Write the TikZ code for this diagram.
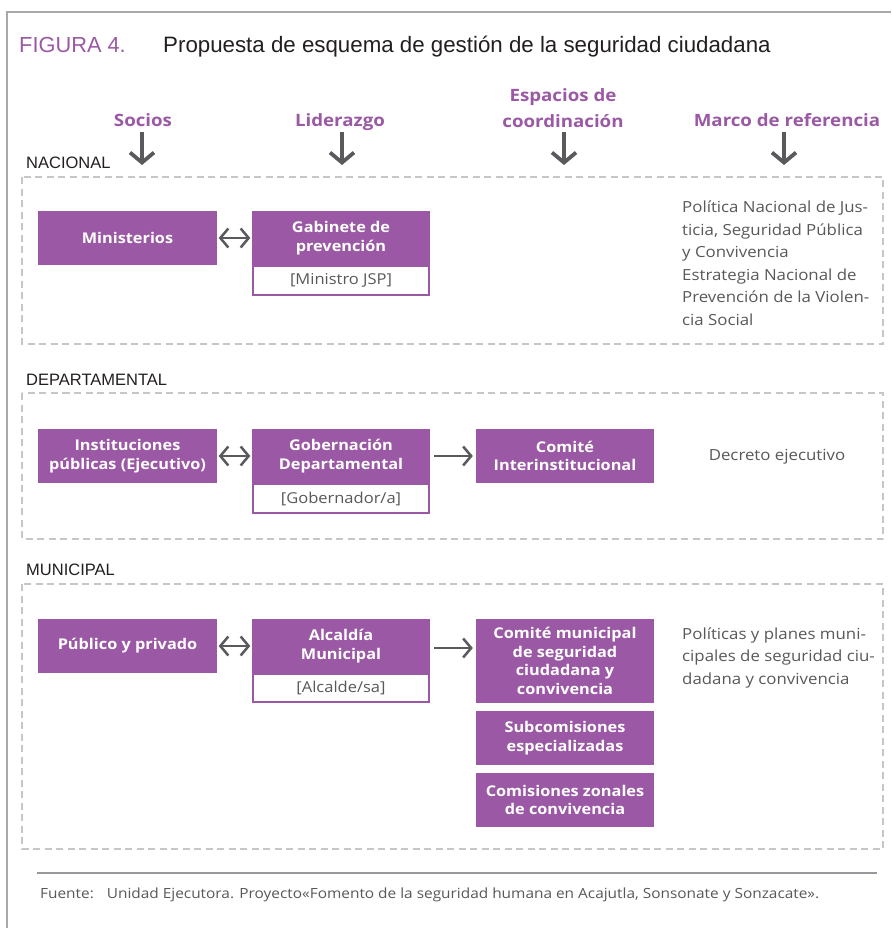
\documentclass[tikz,border=0pt]{standalone}
\usepackage{fontspec}
\setmainfont[FakeStretch=1.1]{Open Sans}
\newfontfamily\helv{Liberation Sans}
\usetikzlibrary{arrows.meta}
\definecolor{pcol}{HTML}{9B59A5}
\definecolor{tgray}{HTML}{58595B}
\definecolor{agray}{HTML}{5A5A5E}
\definecolor{dgray}{HTML}{C6C6C6}
\definecolor{fgray}{HTML}{A7A9AC}
\definecolor{tblack}{HTML}{231F20}
\tikzset{
  pbox/.style={fill=pcol, draw=none, text=white, font=\fontsize{14.8}{18.5}\selectfont\bfseries, align=center, minimum width=178pt, minimum height=54pt, inner sep=0pt},
  wbox/.style={fill=white, draw=pcol, line width=2pt, text=tgray, font=\fontsize{15}{18}\selectfont, minimum width=176pt, minimum height=29pt, inner sep=0pt},
  hdr/.style={text=pcol, font=\fontsize{17}{26}\selectfont\bfseries, align=center, inner sep=0pt, anchor=base},
  lvl/.style={font=\helv\fontsize{16.5}{20}\selectfont, text=tblack, inner sep=0pt, anchor=base west},
  reftext/.style={text=tgray, font=\fontsize{15.3}{22.5}\selectfont, align=left, inner sep=0pt, anchor=base west},
  dashbox/.style={draw=dgray, line width=1.8pt, dash pattern=on 7pt off 4.5pt},
  hdarrow/.style={draw=agray, line width=3.8pt, -{Straight Barb[length=10pt,width=24pt]}},
  dblarrow/.style={draw=agray, line width=2.5pt, {Straight Barb[length=8pt,width=19pt]}-{Straight Barb[length=8pt,width=19pt]}, shorten <=1.5pt, shorten >=1.5pt},
  rarrow/.style={draw=agray, line width=2.5pt, -{Straight Barb[length=8pt,width=19pt]}, shorten <=4pt, shorten >=3pt},
}
\begin{document}
\begin{tikzpicture}[x=1pt,y=-1pt]
\fill[white] (0,0) rectangle (891,928);
\useasboundingbox (0,0) rectangle (891,928);
% frame
\draw[fgray, line width=1.3pt] (7,928) -- (7,12) -- (891,12);
% title
\node[anchor=base west, inner sep=0pt, font=\helv\fontsize{21.8}{26}\selectfont, text=pcol] (fig) at (19,53) {FIGURA 4.};
\node[anchor=base west, inner sep=0pt, font=\helv\fontsize{22.3}{26}\selectfont, text=tblack] (title) at (163,53) {Propuesta de esquema de gestión de la seguridad ciudadana};
% headers
\node[hdr] (h1) at (143,127) {Socios};
\node[hdr] (h2) at (340,127) {Liderazgo};
\node[hdr] (h3) at (563,128) {Espacios de\\coordinación};
\node[hdr] (h4) at (787,127) {Marco de referencia};
\coordinate (a1t) at (142,132); \coordinate (a1b) at (142,165);
\coordinate (a2t) at (342,132); \coordinate (a2b) at (342,165);
\coordinate (a3t) at (564,132); \coordinate (a3b) at (564,165);
\coordinate (a4t) at (784,132); \coordinate (a4b) at (784,165);
\draw[hdarrow] (a1t) -- (a1b);
\draw[hdarrow] (a2t) -- (a2b);
\draw[hdarrow] (a3t) -- (a3b);
\draw[hdarrow] (a4t) -- (a4b);
% level labels
\node[lvl] (lnac) at (26,168) {NACIONAL};
\node[lvl] (ldep) at (26,385) {DEPARTAMENTAL};
\node[lvl] (lmun) at (26,575) {MUNICIPAL};
% dashed regions
\draw[dashbox] (22,177) rectangle (883,344);
\draw[dashbox] (22,393) rectangle (883,539);
\draw[dashbox] (22,584) rectangle (883,849);
% NACIONAL
\node[pbox, minimum width=179pt] (min) at (127.5,238) {Ministerios};
\node[pbox] (gab) at (341,238) {Gabinete de\\prevención};
\node[wbox] (gabw) at (341,280.5) {[Ministro JSP]};
\draw[dblarrow] (min.east) -- (gab.west);
\node[reftext] (rt1) at (682,325) {Política Nacional de Jus-\\ticia, Seguridad Pública\\y Convivencia\\Estrategia Nacional de\\Prevención de la Violen-\\cia Social};
% DEPARTAMENTAL
\node[pbox, minimum width=179pt] (ins) at (127.5,456) {Instituciones\\públicas (Ejecutivo)};
\node[pbox] (gob) at (341,456) {Gobernación\\Departamental};
\node[wbox] (gobw) at (341,498.5) {[Gobernador/a]};
\node[pbox] (cin) at (565,456) {Comité\\Interinstitucional};
\draw[dblarrow] (ins.east) -- (gob.west);
\draw[rarrow] (gob.east) -- (cin.west);
\node[text=tgray, font=\fontsize{15.3}{18}\selectfont, inner sep=0pt] (rt2) at (777,457) {Decreto ejecutivo};
% MUNICIPAL
\node[pbox, minimum width=179pt] (pub) at (127.5,646) {Público y privado};
\node[pbox] (alc) at (341,646) {Alcaldía\\Municipal};
\node[wbox, minimum height=28pt] (alcw) at (341,688) {[Alcalde/sa]};
\node[pbox, minimum height=84pt] (cmu) at (565,661) {Comité municipal\\de seguridad\\ciudadana y\\convivencia};
\node[pbox] (sub) at (565,738) {Subcomisiones\\especializadas};
\node[pbox] (czo) at (565,800) {Comisiones zonales\\de convivencia};
\draw[dblarrow] (pub.east) -- (alc.west);
\draw[rarrow] ([yshift=-2pt]alc.east) -- ([yshift=-2pt]alc.east -| cmu.west);
\node[reftext] (rt3) at (682,684) {Políticas y planes muni-\\cipales de seguridad ciu-\\dadana y convivencia};
% footer
\coordinate (rl) at (37,873); \coordinate (rr) at (877,873);
\draw[fgray!90!black, line width=1.2pt] (rl) -- (rr);
\node[anchor=base west, inner sep=0pt, font=\fontsize{14}{16}\selectfont, text=tgray] (src) at (40,898) {Fuente:\hspace{13pt}Unidad Ejecutora. Proyecto«Fomento de la seguridad humana en Acajutla, Sonsonate y Sonzacate».};
\end{tikzpicture}
\end{document}
